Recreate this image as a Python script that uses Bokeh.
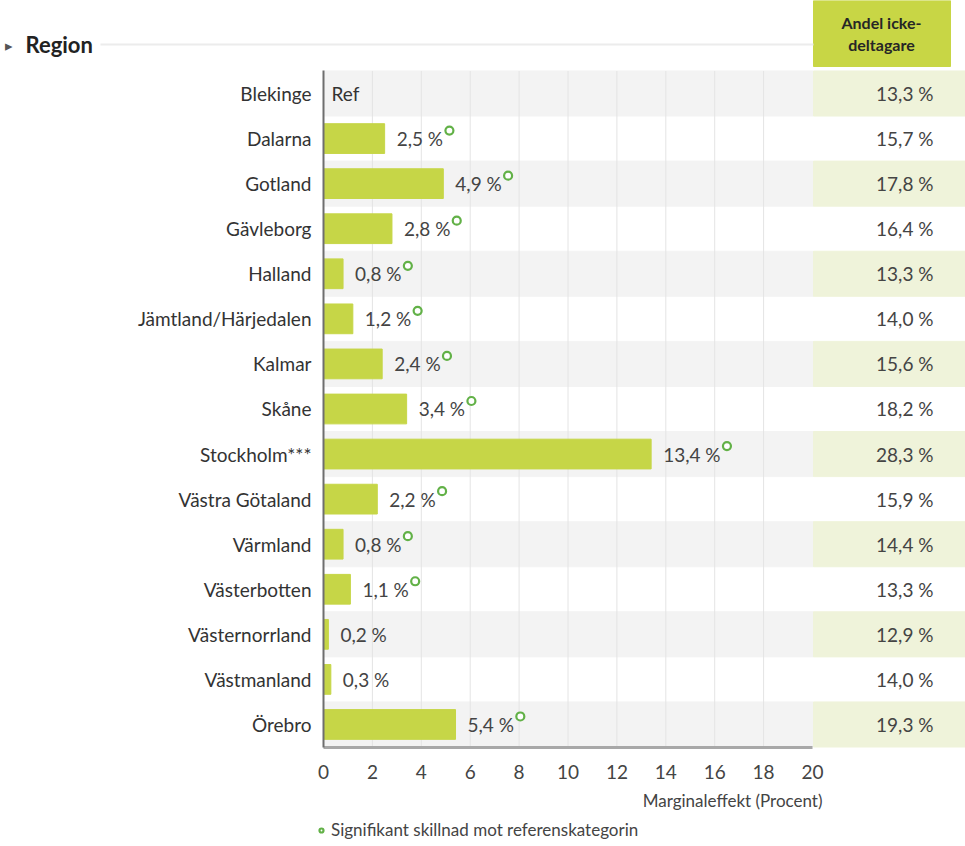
from bokeh.plotting import figure
from bokeh.models import (Range1d, FixedTicker, ColumnDataSource, Label,
                          Legend, LegendItem)
from bokeh.core.properties import value
from bokeh.embed import file_html
from bokeh.resources import INLINE

# ---------------- data ----------------
regions = ["Blekinge", "Dalarna", "Gotland", "Gävleborg", "Halland",
           "Jämtland/Härjedalen", "Kalmar", "Skåne", "Stockholm***",
           "Västra Götaland", "Värmland", "Västerbotten", "Västernorrland",
           "Västmanland", "Örebro"]
effect = [None, 2.5, 4.9, 2.8, 0.8, 1.2, 2.4, 3.4, 13.4, 2.2, 0.8, 1.1,
          0.2, 0.3, 5.4]
significant = [False, True, True, True, True, True, True, True, True, True,
               True, True, False, False, True]
share = [13.3, 15.7, 17.8, 16.4, 13.3, 14.0, 15.6, 18.2, 28.3, 15.9, 14.4,
         13.3, 12.9, 14.0, 19.3]
x_ticks = [0, 2, 4, 6, 8, 10, 12, 14, 16, 18, 20]
ref_label = "Ref"
title_text = "Region"
header_text = "Andel icke-\ndeltagare"
x_title = "Marginaleffekt (Procent)"
legend_text = "Signifikant skillnad mot referenskategorin"

# ---------------- layout helpers ----------------
FONT = "Lato"
W, H = 965, 846
X0_PX = 323            # px of x = 0
PX_X = 24.45           # px per unit
ROW0_PX = 93           # px centre of first row
ROW_PX = 45.07         # px per row

x_max = 20


def dx(px):
    return (px - X0_PX) / PX_X


def dy(px):
    return (px - ROW0_PX) / ROW_PX


x_split = dx(813)


def fmt(v):
    return f"{v:.1f}".replace(".", ",") + " %"


FS = 19
EM = {"0": .58, "1": .58, "2": .58, "3": .58, "4": .58, "5": .58, "6": .58,
      "7": .58, "8": .58, "9": .58, ",": .23, " ": .19, "%": .83}


def est_w(s):
    return sum(EM.get(c, .55) for c in s) * FS


n = len(regions)
rows = list(range(n))

p = figure(width=W, height=H, x_range=Range1d(dx(0), dx(W)),
           y_range=Range1d(dy(H), dy(0)), min_border=0,
           output_backend="svg", toolbar_location=None, title=None)
p.outline_line_color = None
p.background_fill_color = "white"
p.border_fill_color = "white"
p.xgrid.visible = False
p.ygrid.visible = False

# bands
even = [i for i in rows if i % 2 == 0]
p.hbar(y=even, left=0, right=x_split, height=1, color="#f3f3f3")
p.hbar(y=even, left=x_split, right=dx(W), height=1, color="#eff3da")

# grid lines
gx = [t for t in x_ticks if 0 < t < x_max]
p.segment(x0=gx, y0=[-0.5] * len(gx), x1=gx, y1=[n - 0.5] * len(gx),
          line_color="#e4e4e4", line_width=1)

# bars
bar_rows = [i for i in rows if effect[i] is not None]
bar_vals = [effect[i] for i in bar_rows]
p.hbar(y=bar_rows, left=0, right=bar_vals, height=0.66, color="#c6d647")

# value labels
lab_src = ColumnDataSource(dict(x=bar_vals, y=bar_rows,
                                t=[fmt(v) for v in bar_vals]))
p.text(x="x", y="y", text="t", source=lab_src, x_offset=12,
       text_align="left", text_baseline="middle", text_color="#444444",
       text_font=value(FONT), text_font_size=f"{FS}px")

# reference label
ref_rows = [i for i in rows if effect[i] is None]
p.text(x=[0] * len(ref_rows), y=ref_rows, text=[ref_label] * len(ref_rows),
       x_offset=8, text_align="left", text_baseline="middle",
       text_color="#333333", text_font=value(FONT),
       text_font_size=f"{FS}px")

# significance markers
sig_rows = [i for i in rows if significant[i] and effect[i] is not None]
sig_x = [effect[i] + (12 + est_w(fmt(effect[i])) + 7) / PX_X
         for i in sig_rows]
sig_y = [i - 8 / ROW_PX for i in sig_rows]
sig_r = p.scatter(x=sig_x, y=sig_y, marker="circle", size=8,
                  fill_color="white", line_color="#62b147", line_width=2.2)

# share column
p.text(x=[dx(933)] * n, y=rows, text=[fmt(v) for v in share],
       text_align="right", text_baseline="middle", text_color="#444444",
       text_font=value(FONT), text_font_size=f"{FS}px")

# header box
p.quad(left=[x_split], right=[dx(950)], top=[dy(0)], bottom=[dy(66)],
       color="#c8d645")
p.text(x=[dx(881)], y=[dy(33)], text=[header_text], text_align="center",
       text_baseline="middle", text_color="#262626", text_font=value(FONT),
       text_font_size="16px", text_font_style="bold", text_line_height=1.2)

# title line
p.segment(x0=[dx(100)], y0=[dy(44)], x1=[x_split], y1=[dy(44)],
          line_color="#ececec", line_width=2)

# axes
ya = p.yaxis[0]
ya.fixed_location = 0
ya.ticker = FixedTicker(ticks=rows)
ya.major_label_overrides = {i: r for i, r in enumerate(regions)}
ya.bounds = (-0.5, n - 0.5)
ya.axis_line_color = "#6e6e6e"
ya.axis_line_width = 2
ya.major_tick_line_color = None
ya.minor_tick_line_color = None
ya.major_label_standoff = 6
ya.major_label_text_font = FONT
ya.major_label_text_font_size = f"{FS}px"
ya.major_label_text_color = "#333333"

xa = p.xaxis[0]
xa.fixed_location = n - 0.5
xa.ticker = FixedTicker(ticks=x_ticks)
xa.bounds = (0, x_max)
xa.axis_line_color = "#a8a8a8"
xa.axis_line_width = 3
xa.major_tick_line_color = None
xa.minor_tick_line_color = None
xa.major_label_standoff = 12
xa.major_label_text_font = FONT
xa.major_label_text_font_size = f"{FS}px"
xa.major_label_text_color = "#444444"

# texts
p.add_layout(Label(x=dx(822), y=dy(800), text=x_title, text_align="right",
                   text_baseline="middle", text_font=FONT,
                   text_font_size="17px", text_color="#444444"))
p.add_layout(Label(x=dx(25), y=dy(44), text=title_text, text_align="left",
                   text_baseline="middle", text_font=FONT,
                   text_font_size="22px", text_font_style="bold",
                   text_color="#222222"))
p.add_layout(Label(x=dx(4), y=dy(44), text="▸", text_align="left",
                   text_baseline="middle", text_font=FONT,
                   text_font_size="15px", text_color="#555555"))

legend = Legend(items=[LegendItem(label=legend_text, renderers=[sig_r])],
                location=(316, 6), orientation="horizontal",
                border_line_color=None, background_fill_alpha=0,
                label_text_font=FONT, label_text_font_size="17px",
                label_text_color="#444444", glyph_width=10, glyph_height=10,
                label_standoff=5, padding=0, margin=0, spacing=0)
p.add_layout(legend)

open("out.html", "w").write(file_html(p, INLINE))
